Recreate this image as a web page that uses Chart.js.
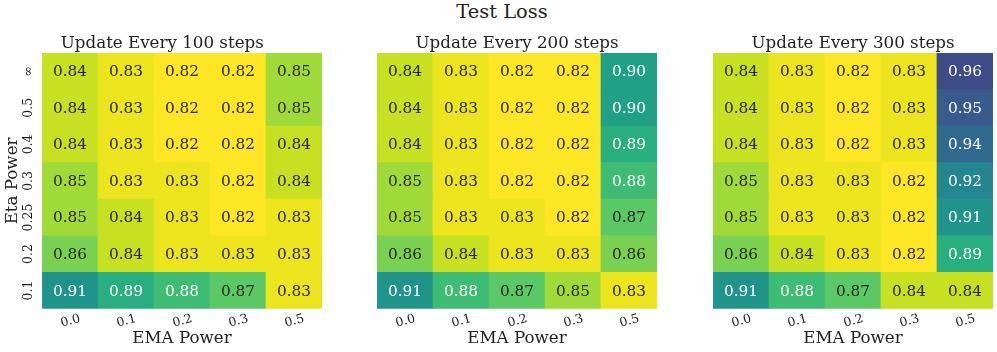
<!DOCTYPE html>
<html>
<head>
<meta charset="utf-8">
<script src="https://cdn.jsdelivr.net/npm/chart.js@4.4.1/dist/chart.umd.min.js"></script>
<style>
  html, body { margin: 0; padding: 0; background: #fff; overflow: hidden; }
  #wrap { position: relative; width: 997px; height: 352px; }
  #suptitle { position: absolute; left: 0; top: 1px; width: 1004px; text-align: center;
    font-family: 'DejaVu Serif'; font-size: 19.4px; line-height: 22.6px; color: #222; }
  .panel { position: absolute; top: 0; }
</style>
</head>
<body>
<div id="wrap">
  <div id="suptitle">Test Loss</div>
  <canvas class="panel" id="p100" width="335" height="352" style="left:0px"></canvas>
  <canvas class="panel" id="p200" width="335" height="352" style="left:335px"></canvas>
  <canvas class="panel" id="p300" width="335" height="352" style="left:671px"></canvas>
</div>
<script>
// rows top -> bottom, columns left -> right
const etaPower = ['∞', '0.5', '0.4', '0.3', '0.25', '0.2', '0.1'];
const emaPower = ['0.0', '0.1', '0.2', '0.3', '0.5'];
const updateSteps = [100, 200, 300];

const loss100 = [
  [0.84, 0.83, 0.82, 0.82, 0.85],
  [0.84, 0.83, 0.82, 0.82, 0.85],
  [0.84, 0.83, 0.82, 0.82, 0.84],
  [0.85, 0.83, 0.83, 0.82, 0.84],
  [0.85, 0.84, 0.83, 0.82, 0.83],
  [0.86, 0.84, 0.83, 0.83, 0.83],
  [0.91, 0.89, 0.88, 0.87, 0.83]
];
const loss200 = [
  [0.84, 0.83, 0.82, 0.82, 0.90],
  [0.84, 0.83, 0.82, 0.82, 0.90],
  [0.84, 0.83, 0.82, 0.82, 0.89],
  [0.85, 0.83, 0.82, 0.82, 0.88],
  [0.85, 0.83, 0.83, 0.82, 0.87],
  [0.86, 0.84, 0.83, 0.83, 0.86],
  [0.91, 0.88, 0.87, 0.85, 0.83]
];
const loss300 = [
  [0.84, 0.83, 0.82, 0.83, 0.96],
  [0.84, 0.83, 0.82, 0.83, 0.95],
  [0.84, 0.83, 0.82, 0.83, 0.94],
  [0.85, 0.83, 0.83, 0.82, 0.92],
  [0.85, 0.83, 0.83, 0.82, 0.91],
  [0.86, 0.84, 0.83, 0.82, 0.89],
  [0.91, 0.88, 0.87, 0.84, 0.84]
];

const colorMin = 0.825, colorMax = 1.0;
const viridis = ['#440154','#471365','#482475','#463480','#414487','#3b528b','#355f8d',
  '#2f6c8e','#2a788e','#25848e','#21918c','#1e9c89','#22a884','#2fb47c','#44bf70',
  '#5ec962','#7ad151','#9bd93c','#bddf26','#dfe318','#fde725'];
const FONT = 'DejaVu Serif';
const TEXT = '#222';

function hexRgb(h) {
  return [parseInt(h.slice(1, 3), 16), parseInt(h.slice(3, 5), 16), parseInt(h.slice(5, 7), 16)];
}
// viridis_r
function cellRgb(v) {
  let t = (v - colorMin) / (colorMax - colorMin);
  t = 1 - Math.max(0, Math.min(1, t));
  const pos = t * (viridis.length - 1);
  const i = Math.min(Math.floor(pos), viridis.length - 2);
  const f = pos - i;
  const a = hexRgb(viridis[i]), b = hexRgb(viridis[i + 1]);
  return a.map((c, k) => Math.round(c + (b[k] - c) * f));
}
function cellColor(v) {
  return 'rgb(' + cellRgb(v).join(',') + ')';
}
// same rule seaborn uses for annotation colour
function textColor(v) {
  const lin = cellRgb(v).map(c => {
    c /= 255;
    return c <= 0.03928 ? c / 12.92 : Math.pow((c + 0.055) / 1.055, 2.4);
  });
  const lum = 0.2126 * lin[0] + 0.7152 * lin[1] + 0.0722 * lin[2];
  return lum > 0.408 ? '#262626' : '#ffffff';
}

function makePanel(id, values, steps, showY) {
  // bottom row first so the stack grows upward
  const datasets = etaPower.map((eta, r) => ({
    label: eta,
    data: emaPower.map(() => 1),
    backgroundColor: values[r].map(cellColor),
    borderWidth: 0,
    barPercentage: 1,
    categoryPercentage: 1
  })).reverse();

  const annot = {
    id: 'annot',
    afterDatasetsDraw(chart) {
      const ctx = chart.ctx;
      ctx.save();
      ctx.font = '15.3px "' + FONT + '"';
      ctx.textAlign = 'center';
      ctx.textBaseline = 'middle';
      chart.data.datasets.forEach((ds, d) => {
        const r = etaPower.length - 1 - d;
        chart.getDatasetMeta(d).data.forEach((bar, c) => {
          const p = bar.getProps(['x', 'y', 'base'], true);
          const v = values[r][c];
          ctx.fillStyle = textColor(v);
          ctx.fillText(v.toFixed(2), p.x, (p.y + p.base) / 2 + 1);
        });
      });
      if (showY) {
        const ys = chart.scales.y;
        ctx.fillStyle = TEXT;
        ctx.font = '12.5px "' + FONT + '"';
        etaPower.forEach((eta, r) => {
          const y = ys.getPixelForValue(etaPower.length - 1 - r + 0.5);
          ctx.save();
          ctx.translate(29, y);
          ctx.rotate(-Math.PI / 2);
          ctx.fillText(eta, 0, 0);
          ctx.restore();
        });
      }
      ctx.restore();
    }
  };

  return new Chart(document.getElementById(id), {
    type: 'bar',
    data: { labels: emaPower, datasets },
    options: {
      responsive: false,
      animation: false,
      devicePixelRatio: 1,
      layout: { padding: { left: showY ? 2.5 : 42, right: 13, top: 34, bottom: 3 } },
      plugins: {
        legend: { display: false },
        tooltip: { enabled: false },
        title: {
          display: true,
          text: 'Update Every ' + steps + ' steps',
          color: TEXT,
          font: { family: FONT, size: 16.7, weight: 'normal' },
          padding: { top: 0, bottom: -1 }
        }
      },
      scales: {
        x: {
          stacked: true,
          grid: { display: false, drawTicks: false },
          border: { display: false },
          ticks: {
            color: TEXT, font: { family: FONT, size: 12.5 },
            minRotation: 15, maxRotation: 15, padding: 2.5, labelOffset: 10
          },
          title: {
            display: true, text: 'EMA Power', color: TEXT,
            font: { family: FONT, size: 16.7 }, padding: { top: -4.5, bottom: 0 }
          }
        },
        y: {
          stacked: true,
          display: showY,
          min: 0, max: etaPower.length,
          grid: { display: false, drawTicks: false },
          border: { display: false },
          ticks: { display: false },
          title: {
            display: true, text: 'Eta Power', color: TEXT,
            font: { family: FONT, size: 16.7 }, padding: { top: 0, bottom: 19.5 }
          }
        }
      }
    },
    plugins: [annot]
  });
}

makePanel('p100', loss100, updateSteps[0], true);
makePanel('p200', loss200, updateSteps[1], false);
makePanel('p300', loss300, updateSteps[2], false);
</script>
</body>
</html>
